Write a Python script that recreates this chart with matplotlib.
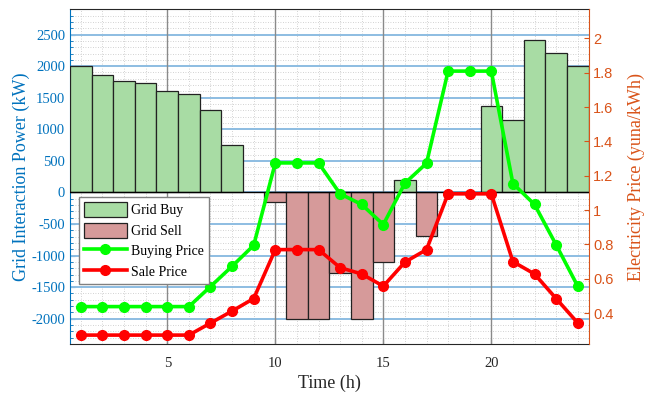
import matplotlib
matplotlib.use("Agg")
import matplotlib.pyplot as plt
import numpy as np
from matplotlib.patches import Patch
from matplotlib.lines import Line2D
from matplotlib.ticker import MultipleLocator

plt.rcParams['axes.unicode_minus'] = False

hours = list(range(1, 25))
grid_power = [2000, 1860, 1760, 1730, 1600, 1555, 1300, 755, 0,
              -155, -2000, -2000, -1270, -2000, -1100, 195, -690,
              0, 0, 1365, 1150, 2410, 2215, 2000]
buy_price = [0.438, 0.438, 0.438, 0.438, 0.438, 0.438, 0.555, 0.673, 0.795,
             1.275, 1.275, 1.275, 1.095, 1.033, 0.916, 1.157, 1.273,
             1.81, 1.81, 1.81, 1.155, 1.033, 0.798, 0.557]
sale_price = [0.272, 0.272, 0.272, 0.272, 0.272, 0.272, 0.342, 0.412, 0.485,
              0.77, 0.77, 0.77, 0.665, 0.628, 0.557, 0.697, 0.77,
              1.095, 1.095, 1.095, 0.70, 0.628, 0.485, 0.343]
xticks = [5, 10, 15, 20]
left_ticks = [-2000, -1500, -1000, -500, 0, 500, 1000, 1500, 2000, 2500]
right_ticks = [0.4, 0.6, 0.8, 1.0, 1.2, 1.4, 1.6, 1.8, 2.0]
right_labels = ['0.4', '0.6', '0.8', '1', '1.2', '1.4', '1.6', '1.8', '2']

BLUE = '#0072BD'
ORANGE = '#D95319'
SERIF = 'Liberation Serif'
SANS = 'Liberation Sans'

fig = plt.figure(figsize=(6.49, 4.01), dpi=100)
ax = fig.add_axes([0.108, 0.1421, 0.7988, 0.8347])
ax2 = ax.twinx()

gp = np.array(grid_power, dtype=float)
buy_vals = np.where(gp > 0, gp, 0)
sell_vals = np.where(gp < 0, gp, 0)
hrs = np.array(hours)
mb = buy_vals != 0
ms = sell_vals != 0
ax.bar(hrs[mb], buy_vals[mb], width=1.0, color='#a8dca4', edgecolor='#222222', linewidth=0.9, zorder=3)
ax.bar(hrs[ms], sell_vals[ms], width=1.0, color='#d69a9a', edgecolor='#222222', linewidth=0.9, zorder=3)
ax.axhline(0, color='black', linewidth=1.0, zorder=4)

ax.set_xlim(0.5, 24.5)
ax.set_ylim(-2400, 2900)
ax.set_xticks(xticks)
ax.set_yticks(left_ticks)
ax.xaxis.set_minor_locator(MultipleLocator(1))
ax.yaxis.set_minor_locator(MultipleLocator(100))
ax.grid(False)
for yv in left_ticks:
    ax.axhline(yv, color='#8dbde2', linewidth=1.4, zorder=1)
for xv in xticks:
    ax.axvline(xv, color='#8a8a8a', linewidth=1.0, zorder=1)
ax.grid(which='minor', axis='both', linestyle=(0, (1, 2)), color='#c4c4c4', linewidth=0.6, zorder=0)
ax.set_axisbelow(True)

ax.tick_params(axis='y', which='both', direction='in', colors=BLUE, labelsize=10.5)
ax.tick_params(axis='x', which='both', direction='in', colors='#262626', labelsize=10.5, pad=9)
ax.tick_params(axis='x', which='minor', length=0)
ax.tick_params(axis='y', which='minor', length=2)
for lab in ax.get_yticklabels() + ax.get_xticklabels():
    lab.set_fontfamily(SERIF)
ax.set_ylabel('Grid Interaction Power (kW)', color=BLUE, fontsize=13, fontfamily=SERIF, labelpad=1)
ax.set_xlabel('Time (h)', color='#262626', fontsize=13, fontfamily=SERIF, labelpad=4)
ax.spines['left'].set_color(BLUE)
ax.spines['top'].set_color('#262626')
ax.spines['bottom'].set_color('#262626')
ax.spines['right'].set_visible(False)

ax2.plot(hours, buy_price, color='#00ff00', linewidth=2.6, marker='o', markersize=7, zorder=5)
ax2.plot(hours, sale_price, color='#ff0000', linewidth=2.6, marker='o', markersize=7, zorder=5)
ax2.set_ylim(0.22, 2.17)
ax2.set_yticks(right_ticks)
ax2.set_yticklabels(right_labels)
ax2.tick_params(axis='y', which='both', direction='in', colors=ORANGE, labelsize=10.5)
for lab in ax2.get_yticklabels():
    lab.set_fontfamily(SANS)
ax2.set_ylabel('Electricity Price (yuna/kWh)', color=ORANGE, fontsize=13, fontfamily=SERIF, labelpad=10)
ax2.spines['right'].set_color(ORANGE)
ax2.spines['left'].set_visible(False)
ax2.spines['top'].set_visible(False)
ax2.spines['bottom'].set_visible(False)

handles = [Patch(facecolor='#a8dca4', edgecolor='#222222', linewidth=0.9),
           Patch(facecolor='#d69a9a', edgecolor='#222222', linewidth=0.9),
           Line2D([], [], color='#00ff00', linewidth=2.6, marker='o', markersize=7),
           Line2D([], [], color='#ff0000', linewidth=2.6, marker='o', markersize=7)]
labels = ['Grid Buy', 'Grid Sell', 'Buying Price', 'Sale Price']
leg = ax2.legend(handles, labels, loc='upper left', bbox_to_anchor=(0.017, 0.438),
                 borderaxespad=0, prop={'family': SERIF, 'size': 10},
                 handlelength=3.1, handleheight=1.25, labelspacing=0.4,
                 handletextpad=0.3, borderpad=0.35, fancybox=False, framealpha=1,
                 edgecolor='#808080')
leg.get_frame().set_linewidth(1.0)
leg.set_zorder(10)

fig.savefig('out.png', dpi=100)
